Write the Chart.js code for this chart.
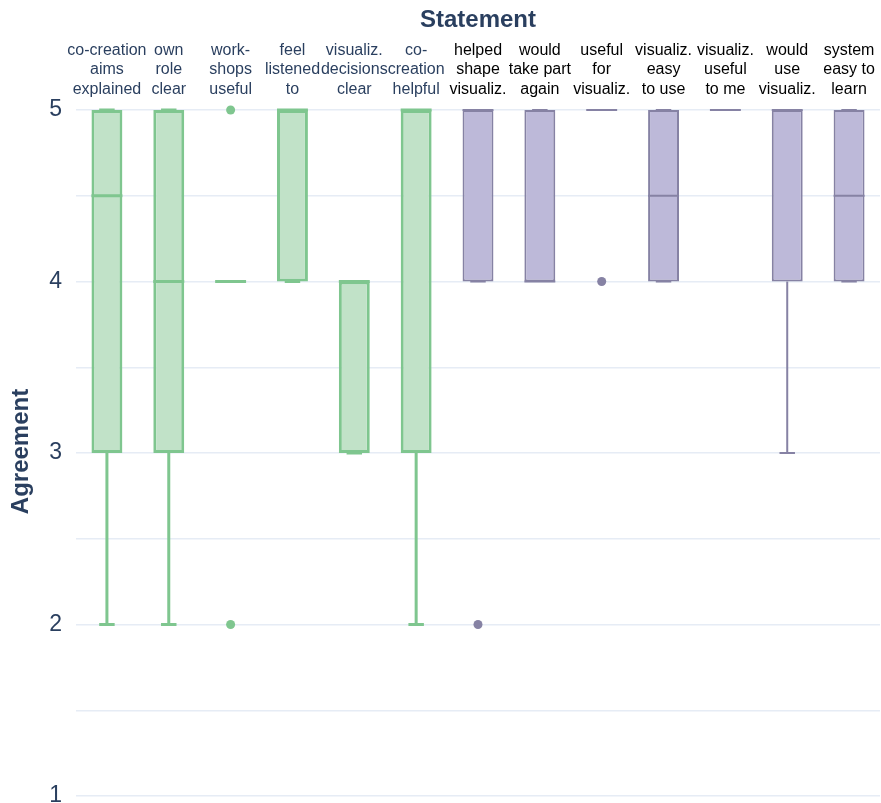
<!DOCTYPE html>
<html>
<head>
<meta charset="utf-8">
<script src="https://cdn.jsdelivr.net/npm/chart.js@4"></script>
<style>
  html, body { margin: 0; padding: 0; background: #fff; overflow: hidden; }
  canvas { display: block; }
</style>
</head>
<body>
<canvas id="boxChart" width="881" height="803"></canvas>
<script>
// --- data ---
const statements = [
    ['co-creation', 'aims', 'explained'],
    ['own', 'role', 'clear'],
    ['work-', 'shops', 'useful'],
    ['feel', 'listened', 'to'],
    ['visualiz.', 'decisions', 'clear'],
    ['co-', 'creation', 'helpful'],
    ['helped', 'shape', 'visualiz.'],
    ['would', 'take part', 'again'],
    ['useful', 'for', 'visualiz.'],
    ['visualiz.', 'easy', 'to use'],
    ['visualiz.', 'useful', 'to me'],
    ['would', 'use', 'visualiz.'],
    ['system', 'easy to', 'learn']
];
const groupA = 6; // first 6 statements = co-creation (green), rest = system (purple)

const mins    = [2, 2, 4, 4, 3, 2, 4, 4, 5, 4, 5, 3, 4];
const q1s     = [3, 3, 4, 4, 3, 3, 4, 4, 5, 4, 5, 4, 4];
const medians = [4.5, 4, 4, 5, 4, 5, 5, 4, 5, 4.5, 5, 5, 4.5];
const q3s     = [5, 5, 4, 5, 4, 5, 5, 5, 5, 5, 5, 5, 5];
const maxs    = [5, 5, 4, 5, 4, 5, 5, 5, 5, 5, 5, 5, 5];
const outliersHigh = [null, null, 5, null, null, null, null, null, null, null, null, null, null];
const outliersLow  = [null, null, 2, null, null, null, 2, null, 4, null, null, null, null];

const yTicks = [1, 1.5, 2, 2.5, 3, 3.5, 4, 4.5, 5];

// --- styles ---
const GREEN = '#7fc68f', GREEN_FILL = '#c1e2c8';
const PURPLE = '#8682a4', PURPLE_FILL = '#bdb9d9';
const strokeOf = i => i < groupA ? GREEN : PURPLE;
const fillOf = i => i < groupA ? GREEN_FILL : PURPLE_FILL;
const widthOf = i => i < groupA ? 3 : 2;
const FONT = '"Liberation Sans", Arial, sans-serif';

// whiskers, caps and medians drawn from the bar elements + y scale
const boxExtras = {
    id: 'boxExtras',
    afterDatasetsDraw(chart) {
        const y = chart.scales.y;
        const bars = chart.getDatasetMeta(0).data;
        const ctx = chart.ctx;
        ctx.save();
        bars.forEach((bar, i) => {
            const x = bar.x, half = bar.width / 2, cap = bar.width / 4;
            ctx.strokeStyle = strokeOf(i);
            ctx.lineWidth = widthOf(i);
            ctx.beginPath();
            // lower whisker
            if (mins[i] < q1s[i]) {
                ctx.moveTo(x, y.getPixelForValue(q1s[i]));
                ctx.lineTo(x, y.getPixelForValue(mins[i]));
            }
            // upper whisker
            if (maxs[i] > q3s[i]) {
                ctx.moveTo(x, y.getPixelForValue(q3s[i]));
                ctx.lineTo(x, y.getPixelForValue(maxs[i]));
            }
            // caps
            const yMin = y.getPixelForValue(mins[i]);
            const yMax = y.getPixelForValue(maxs[i]);
            ctx.moveTo(x - cap, yMin); ctx.lineTo(x + cap, yMin);
            ctx.moveTo(x - cap, yMax); ctx.lineTo(x + cap, yMax);
            // median
            const yMed = y.getPixelForValue(medians[i]);
            ctx.moveTo(x - half, yMed); ctx.lineTo(x + half, yMed);
            ctx.stroke();
        });
        ctx.restore();
    }
};

const ctx = document.getElementById('boxChart').getContext('2d');
new Chart(ctx, {
    type: 'bar',
    data: {
        labels: statements,
        datasets: [
            {
                label: 'box',
                data: q1s.map((q, i) => [q, q3s[i]]),
                backgroundColor: statements.map((_, i) => fillOf(i)),
                borderColor: statements.map((_, i) => strokeOf(i)),
                borderWidth: statements.map((_, i) => widthOf(i)),
                borderSkipped: false,
                barPercentage: 0.5,
                categoryPercentage: 1
            },
            {
                type: 'line',
                label: 'outliers high',
                data: outliersHigh,
                showLine: false,
                pointRadius: 4.5,
                pointBorderWidth: 0,
                pointBackgroundColor: statements.map((_, i) => strokeOf(i))
            },
            {
                type: 'line',
                label: 'outliers low',
                data: outliersLow,
                showLine: false,
                pointRadius: 4.5,
                pointBorderWidth: 0,
                pointBackgroundColor: statements.map((_, i) => strokeOf(i))
            }
        ]
    },
    options: {
        responsive: false,
        animation: false,
        layout: { autoPadding: false, padding: { left: 0, right: 1, top: 0, bottom: 0 } },
        plugins: { legend: { display: false }, tooltip: { enabled: false } },
        scales: {
            x: {
                position: 'top',
                grid: { display: false, drawTicks: false, tickLength: 0 },
                border: { display: false },
                ticks: {
                    autoSkip: false,
                    maxRotation: 0,
                    minRotation: 0,
                    padding: 1,
                    font: { family: FONT, size: 16, lineHeight: 1.22 },
                    color: (c) => c.index < groupA ? '#2a3f5f' : '#000000'
                },
                title: {
                    display: true,
                    text: 'Statement',
                    color: '#2a3f5f',
                    font: { family: FONT, size: 24, weight: 'bold' },
                    padding: { top: 6, bottom: 0 }
                },
                afterFit: (scale) => {
                    scale.height = 100;
                    scale.paddingLeft = 0;
                    scale.paddingRight = 0;
                }
            },
            y: {
                min: 0.9592,
                max: 5.0583,
                grid: { color: '#e6ecf5', lineWidth: 1.5, drawTicks: false },
                border: { display: false },
                afterBuildTicks: (scale) => { scale.ticks = yTicks.map(v => ({ value: v })); },
                ticks: {
                    autoSkip: false,
                    padding: 14,
                    color: '#2a3f5f',
                    font: { family: FONT, size: 23 },
                    callback: (v) => Number.isInteger(v) ? String(v) : ''
                },
                title: {
                    display: true,
                    text: 'Agreement',
                    color: '#2a3f5f',
                    font: { family: FONT, size: 24, weight: 'bold' },
                    padding: { top: 7, bottom: 0 }
                },
                afterFit: (scale) => {
                    scale.width = 76;
                    scale.paddingTop = 0;
                    scale.paddingBottom = 0;
                }
            }
        }
    },
    plugins: [boxExtras]
});
</script>
</body>
</html>
